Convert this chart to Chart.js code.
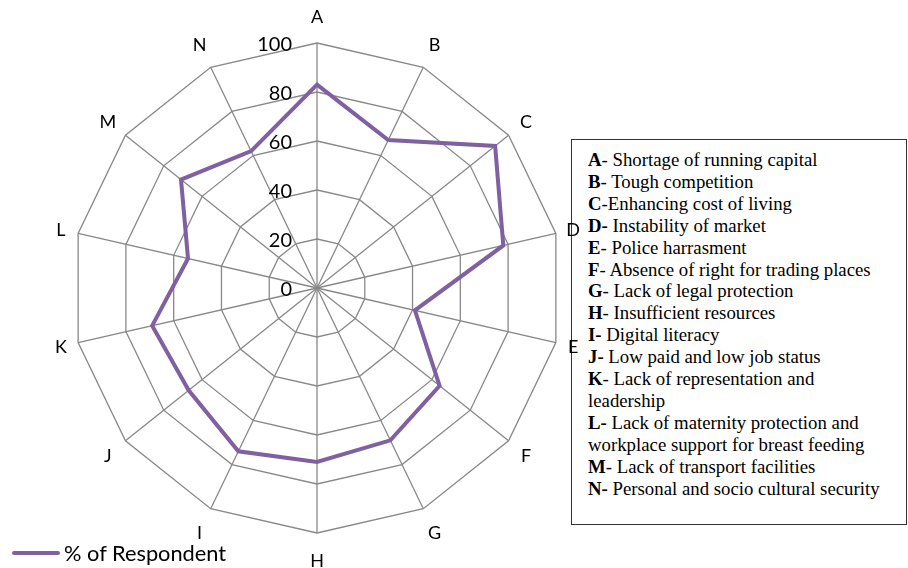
<!DOCTYPE html>
<html>
<head>
<meta charset="utf-8">
<script src="https://cdn.jsdelivr.net/npm/chart.js@4.4.1/dist/chart.umd.min.js"></script>
<style>
  body { margin:0; background:#fff; width:908px; height:568px; position:relative; overflow:hidden; }
  #wrap { position:absolute; left:0; top:0; width:634px; height:568px; }
  #notes { position:absolute; left:571px; top:139px; width:318px; height:375px; border:1px solid #333;
           padding:9px 0 0 16px; font:18.8px "Liberation Serif", serif; line-height:21.9px; color:#000; white-space:nowrap; }
  #notes b { font-weight:bold; }
  #leg { position:absolute; left:12px; top:539px; font:21.8px Lato, sans-serif; color:#000; display:flex; align-items:center; }
  #leg span.sw { display:inline-block; width:48px; height:4px; background:#7f60a0; margin-right:4px; border-radius:2px; }
</style>
</head>
<body>
<div id="notes"></div>
<div id="wrap"><canvas id="radar"></canvas></div>
<div id="leg"><span class="sw"></span>% of Respondent</div>
<script>
const categories = ["A","B","C","D","E","F","G","H","I","J","K","L","M","N"];
const respondent = [83, 67, 93, 78, 41, 64, 69, 71, 74, 67, 69, 54, 71, 62];
const tickValues = [0, 20, 40, 60, 80, 100];
const notes = [
  ["A","- Shortage of running capital"],
  ["B","- Tough competition"],
  ["C","-Enhancing cost of living"],
  ["D-"," Instability of market"],
  ["E","- Police harrasment"],
  ["F","- Absence of right for trading places"],
  ["G","- Lack of legal protection"],
  ["H","- Insufficient resources"],
  ["I-"," Digital literacy"],
  ["J-"," Low paid and low job status"],
  ["K","- Lack of representation and<br>leadership"],
  ["L-"," Lack of maternity protection and<br>workplace support for breast feeding"],
  ["M","- Lack of transport facilities"],
  ["N-"," Personal and socio cultural security"],
];

document.getElementById("notes").innerHTML = notes.map(n => `<b>${n[0]}</b>${n[1]}`).join("<br>");

// tick numbers left of the A axis, category letters centred just outside the web
const radarText = {
  id: "radarText",
  afterDraw(chart) {
    const s = chart.scales.r, ctx = chart.ctx;
    ctx.save();
    ctx.fillStyle = "#000";
    ctx.textBaseline = "middle";
    ctx.font = "20px Lato, sans-serif";
    ctx.textAlign = "right";
    tickValues.forEach(v => {
      ctx.fillText(String(v), s.xCenter - 25, s.yCenter - s.getDistanceFromCenterForValue(v) + 2);
    });
    ctx.font = "18px Lato, sans-serif";
    ctx.textAlign = "center";
    categories.forEach((c, i) => {
      const ang = i / categories.length * 2 * Math.PI;
      const p = s.getPointPosition(i, s.drawingArea + 15 + 12 * Math.abs(Math.cos(ang)));
      ctx.fillText(c, p.x, p.y + 1);
    });
    ctx.restore();
  }
};

new Chart(document.getElementById("radar"), {
  type: "radar",
  data: {
    labels: categories,
    datasets: [{
      label: "% of Respondent",
      data: respondent,
      borderColor: "#7f60a0",
      borderWidth: 4,
      pointRadius: 0,
      fill: false,
      tension: 0,
    }],
  },
  options: {
    responsive: true, maintainAspectRatio: false, animation: false,
    layout: { padding: { top: 43, bottom: 35, left: 72, right: 72 } },
    plugins: { legend: { display: false }, tooltip: { enabled: false } },
    scales: {
      r: {
        min: 0, max: 100,
        ticks: { stepSize: 20, display: false },
        grid: { color: "#888", lineWidth: 1.3 },
        angleLines: { color: "#888", lineWidth: 1.3 },
        pointLabels: { display: false },
      },
    },
  },
  plugins: [radarText],
});
</script>
</body>
</html>
